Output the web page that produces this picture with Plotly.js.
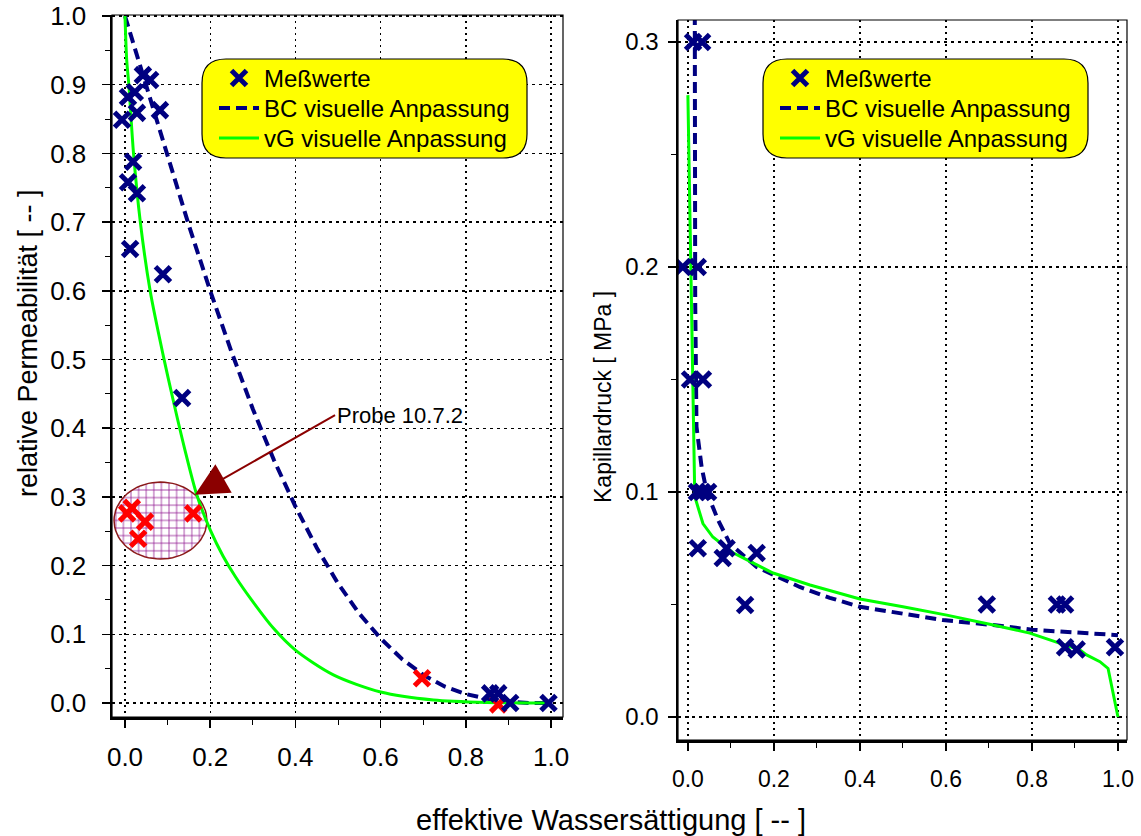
<!DOCTYPE html>
<html><head><meta charset="utf-8">
<script src="https://cdn.plot.ly/plotly-3.0.1.min.js"></script>
<style>html,body{margin:0;padding:0;background:#fff}#chart{width:1141px;height:836px}</style>
</head><body><div id="chart"></div>
<script>
// ---------- data: left plot (relative permeability) ----------
const krMeasX = [-0.007, 0.007, 0.023, 0.028, 0.042, 0.059, 0.082, 0.019, 0.007, 0.028, 0.012, 0.089, 0.134, 0.857, 0.876, 0.904, 0.994];
const krMeasY = [0.849, 0.882, 0.889, 0.859, 0.914, 0.907, 0.863, 0.788, 0.758, 0.742, 0.661, 0.624, 0.444, 0.014, 0.014, 0.000, 0.000];
const krProbeX = [0.005, 0.016, 0.047, 0.031, 0.160, 0.697, 0.876];
const krProbeY = [0.276, 0.284, 0.264, 0.239, 0.276, 0.036, -0.002];
const krBcX = [0.00, 0.05, 0.10, 0.15, 0.20, 0.25, 0.30, 0.35, 0.40, 0.45, 0.50, 0.55, 0.60, 0.65, 0.70, 0.75, 0.80, 0.85, 0.90, 0.95, 1.00];
const krBcY = [1.000, 0.897, 0.795, 0.695, 0.600, 0.511, 0.428, 0.353, 0.286, 0.226, 0.174, 0.130, 0.094, 0.064, 0.041, 0.024, 0.013, 0.006, 0.002, 0.000, 0.000];
const krVgX = [0.000, 0.004, 0.009, 0.020, 0.036, 0.059, 0.090, 0.113, 0.140, 0.169, 0.200, 0.230, 0.260, 0.297, 0.348, 0.400, 0.489, 0.600, 0.724, 0.850, 1.000];
const krVgY = [1.000, 0.936, 0.900, 0.800, 0.700, 0.600, 0.505, 0.441, 0.370, 0.302, 0.252, 0.214, 0.183, 0.150, 0.109, 0.077, 0.041, 0.016, 0.0044, 0.0008, 0.000];

// ---------- data: right plot (capillary pressure) ----------
const pcMeasX = [0.012, 0.033, -0.012, 0.023, 0.005, 0.035, 0.021, 0.033, 0.047, 0.023, 0.081, 0.090, 0.160, 0.133, 0.695, 0.858, 0.877, 0.877, 0.904, 0.993];
const pcMeasY = [0.300, 0.300, 0.200, 0.200, 0.150, 0.150, 0.100, 0.100, 0.100, 0.075, 0.0707, 0.075, 0.0729, 0.0498, 0.050, 0.050, 0.050, 0.031, 0.030, 0.031];
const pcBcX = [0.016, 0.016, 0.017, 0.020, 0.032, 0.044, 0.070, 0.098, 0.160, 0.260, 0.330, 0.400, 0.593, 0.710, 0.800, 1.000];
const pcBcY = [0.320, 0.250, 0.185, 0.129, 0.111, 0.100, 0.0876, 0.077, 0.0667, 0.0578, 0.053, 0.049, 0.0431, 0.0409, 0.0388, 0.0364];
const pcVgX = [0.000, 0.004, 0.009, 0.012, 0.016, 0.035, 0.058, 0.105, 0.198, 0.284, 0.400, 0.500, 0.602, 0.710, 0.795, 0.912, 0.927, 0.958, 0.977, 1.000];
const pcVgY = [0.2764, 0.230, 0.186, 0.141, 0.098, 0.086, 0.080, 0.073, 0.064, 0.0587, 0.0525, 0.049, 0.0453, 0.0409, 0.0373, 0.0298, 0.0276, 0.0246, 0.0216, 0.000];

// ---------- tick labels ----------
const satTicks = [0, 0.2, 0.4, 0.6, 0.8, 1.0];
const satLabels = ['0.0', '0.2', '0.4', '0.6', '0.8', '1.0'];
const krTicks = [0, 0.1, 0.2, 0.3, 0.4, 0.5, 0.6, 0.7, 0.8, 0.9, 1.0];
const krLabels = ['0.0', '0.1', '0.2', '0.3', '0.4', '0.5', '0.6', '0.7', '0.8', '0.9', '1.0'];
const pcTicks = [0, 0.1, 0.2, 0.3];
const pcLabels = ['0.0', '0.1', '0.2', '0.3'];

const legendNames = ['Meßwerte', 'BC visuelle Anpassung', 'vG visuelle Anpassung'];
const probeLabel = 'Probe 10.7.2';
const xTitle = 'effektive Wassersättigung [ -- ]';
const krTitle = 'relative Permeabilität [ -- ]';
const pcTitle = 'Kapillardruck [ MPa ]';

// ---------- styling / geometry ----------
const W = 1141, H = 836;
const FONT = 'Liberation Sans, Arial, Helvetica, sans-serif';
const NAVY = '#000080', GREEN = '#00ff00', RED = '#ff0000';
const px = p => p / W;
const py = p => 1 - p / H;

// highlight ellipse around the "Probe 10.7.2" points
const ell = {cx: 0.0833, cy: 0.2656, rx: 0.109, ry: 0.056};
const ellX = [], ellY = [];
for (let i = 0; i <= 72; i++) {
  const t = 2 * Math.PI * i / 72;
  ellX.push(ell.cx + ell.rx * Math.cos(t));
  ellY.push(ell.cy + ell.ry * Math.sin(t));
}

function roundRect(x0, y0, x1, y1, r) {
  const X = v => px(v).toFixed(5), Y = v => py(v).toFixed(5);
  return `M ${X(x0 + r)} ${Y(y0)} L ${X(x1 - r)} ${Y(y0)} Q ${X(x1)} ${Y(y0)} ${X(x1)} ${Y(y0 + r)} ` +
         `L ${X(x1)} ${Y(y1 - r)} Q ${X(x1)} ${Y(y1)} ${X(x1 - r)} ${Y(y1)} ` +
         `L ${X(x0 + r)} ${Y(y1)} Q ${X(x0)} ${Y(y1)} ${X(x0)} ${Y(y1 - r)} ` +
         `L ${X(x0)} ${Y(y0 + r)} Q ${X(x0)} ${Y(y0)} ${X(x0 + r)} ${Y(y0)} Z`;
}

const mk = c => ({symbol: 'x-thin-open', size: 15, line: {width: 5, color: c}, color: c});
const bcLine = {color: NAVY, width: 4, dash: '11px,6px'};

const traces = [
  {x: ellX, y: ellY, xaxis: 'x', yaxis: 'y', mode: 'lines', fill: 'toself',
   fillcolor: 'white', fillpattern: {shape: '+', fgcolor: '#8a0a8a', bgcolor: 'white', size: 7.6, solidity: 0.18},
   line: {color: '#8b1a1a', width: 1.5}, showlegend: false, hoverinfo: 'skip'},
  {x: krBcX, y: krBcY, xaxis: 'x', yaxis: 'y', mode: 'lines', name: legendNames[1], legend: 'legend2',
   line: bcLine},
  {x: krVgX, y: krVgY, xaxis: 'x', yaxis: 'y', mode: 'lines', name: legendNames[2], legend: 'legend3',
   line: {color: GREEN, width: 3, shape: 'spline', smoothing: 0.8}},
  {x: krProbeX, y: krProbeY, xaxis: 'x', yaxis: 'y', mode: 'markers', marker: mk(RED), showlegend: false},
  {x: krMeasX, y: krMeasY, xaxis: 'x', yaxis: 'y', mode: 'markers', name: legendNames[0], legend: 'legend',
   marker: mk(NAVY)},

  {x: pcBcX, y: pcBcY, xaxis: 'x2', yaxis: 'y2', mode: 'lines', name: legendNames[1], legend: 'legend5',
   line: bcLine},
  {x: pcVgX, y: pcVgY, xaxis: 'x2', yaxis: 'y2', mode: 'lines', name: legendNames[2], legend: 'legend6',
   line: {color: GREEN, width: 3}},
  {x: pcMeasX, y: pcMeasY, xaxis: 'x2', yaxis: 'y2', mode: 'markers', name: legendNames[0], legend: 'legend4',
   marker: mk(NAVY)}
];

function axisBase(extra) {
  return Object.assign({
    showline: true, linecolor: 'black', linewidth: 2.5, mirror: false,
    ticks: 'outside', ticklen: 8, tickwidth: 1.5, tickcolor: 'black',
    showgrid: true, gridcolor: 'black', gridwidth: 1.4,
    zeroline: false, tickmode: 'array', fixedrange: true,
    tickfont: {family: FONT, size: 26, color: 'black'}
  }, extra);
}
const minor = d => ({dtick: d, tick0: 0, ticks: 'outside', ticklen: 5, tickwidth: 1, tickcolor: 'black', showgrid: false});

// one legend entry per row, so the row pitch matches the original box
const legendEntry = (x, rowCenter) => ({
  x: px(x), y: py(rowCenter - 22), xanchor: 'left', yanchor: 'top', xref: 'paper', yref: 'paper',
  bgcolor: 'rgba(0,0,0,0)', borderwidth: 0, itemwidth: 40,
  font: {family: FONT, size: 24, color: 'black'}
});

const layout = {
  width: W, height: H, margin: {l: 0, r: 0, t: 0, b: 0},
  paper_bgcolor: 'white', plot_bgcolor: 'white',
  font: {family: FONT, color: 'black'},
  xaxis: axisBase({domain: [px(112), px(563)], range: [-0.0305, 1.028], anchor: 'y',
    tickvals: satTicks, ticktext: satLabels, griddash: '2px,4px', minor: minor(0.1), ticklabelstandoff: 7}),
  yaxis: axisBase({domain: [py(717), py(15)], range: [-0.0204, 1.0015], anchor: 'x',
    tickvals: krTicks, ticktext: krLabels, griddash: '3px,4px', minor: minor(0.05), ticklabelstandoff: 10}),
  xaxis2: axisBase({domain: [px(678), px(1127)], range: [-0.023, 1.021], anchor: 'y2',
    tickvals: satTicks, ticktext: satLabels, griddash: '2px,4px', minor: minor(0.1), ticklabelstandoff: 9,
    tickfont: {family: FONT, size: 23, color: 'black'}}),
  yaxis2: axisBase({domain: [py(740), py(20)], range: [-0.0102, 0.3098], anchor: 'x2',
    tickvals: pcTicks, ticktext: pcLabels, griddash: '3px,4px', minor: minor(0.05), ticklabelstandoff: 4,
    tickfont: {family: FONT, size: 24, color: 'black'}}),
  legend: legendEntry(214, 78),
  legend2: legendEntry(214, 108),
  legend3: legendEntry(214, 138),
  legend4: legendEntry(775, 78),
  legend5: legendEntry(775, 108),
  legend6: legendEntry(775, 138),
  shapes: [
    {type: 'rect', xref: 'x domain', yref: 'y domain', x0: 0, x1: 1, y0: 0, y1: 1, line: {color: 'black', width: 1.2}, layer: 'above'},
    {type: 'rect', xref: 'x2 domain', yref: 'y2 domain', x0: 0, x1: 1, y0: 0, y1: 1, line: {color: 'black', width: 1.2}, layer: 'above'},
    {type: 'path', xref: 'paper', yref: 'paper', path: roundRect(202, 59, 527, 158, 24),
     fillcolor: '#ffff00', line: {color: 'black', width: 1.2}, layer: 'above'},
    {type: 'path', xref: 'paper', yref: 'paper', path: roundRect(763, 59, 1088, 158, 24),
     fillcolor: '#ffff00', line: {color: 'black', width: 1.2}, layer: 'above'}
  ],
  annotations: [
    {xref: 'x', yref: 'y', x: 0.164, y: 0.303, axref: 'x', ayref: 'y', ax: 0.493, ay: 0.419,
     text: probeLabel, showarrow: true, xanchor: 'left', yanchor: 'middle',
     arrowcolor: '#8b0000', arrowwidth: 2, arrowhead: 2, arrowsize: 3.3,
     font: {family: FONT, size: 22, color: 'black'}},
    {xref: 'paper', yref: 'paper', x: px(611), y: py(820), text: xTitle, showarrow: false,
     xanchor: 'center', yanchor: 'middle', font: {family: FONT, size: 29, color: 'black'}},
    {xref: 'paper', yref: 'paper', x: px(28), y: py(343), text: krTitle, showarrow: false, textangle: -90,
     xanchor: 'center', yanchor: 'middle', font: {family: FONT, size: 27, color: 'black'}},
    {xref: 'paper', yref: 'paper', x: px(603), y: py(397), text: pcTitle, showarrow: false, textangle: -90,
     xanchor: 'center', yanchor: 'middle', font: {family: FONT, size: 23, color: 'black'}}
  ]
};

Plotly.newPlot('chart', traces, layout, {displayModeBar: false, staticPlot: true});
</script></body></html>
